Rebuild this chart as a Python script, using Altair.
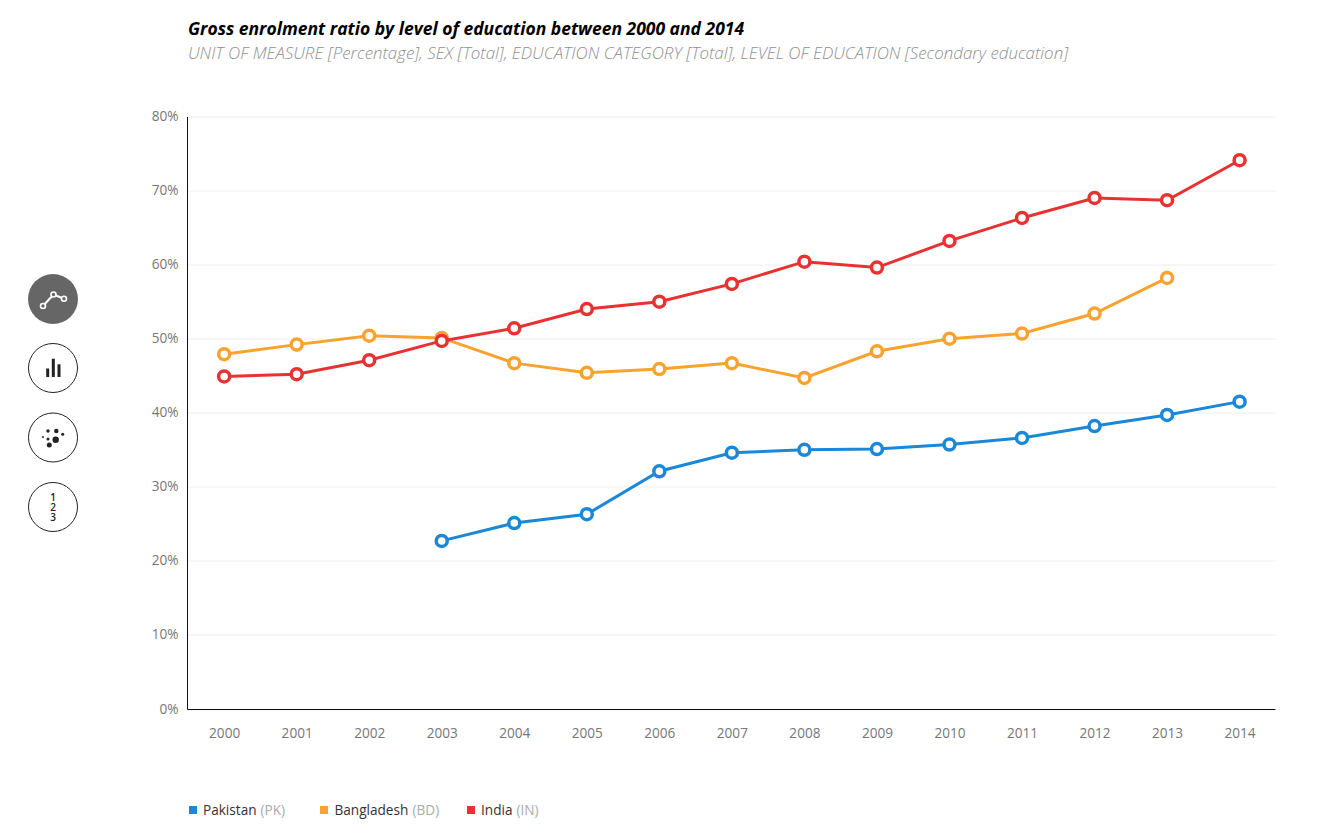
import altair as alt
import pandas as pd

years = list(range(2000, 2015))
pakistan = [None, None, None, 22.7, 25.1, 26.3, 32.1, 34.6, 35.0, 35.1, 35.7, 36.6, 38.2, 39.7, 41.5]
bangladesh = [47.9, 49.2, 50.4, 50.1, 46.7, 45.4, 45.9, 46.7, 44.7, 48.3, 50.0, 50.7, 53.4, 58.2, None]
india = [44.9, 45.2, 47.1, 49.7, 51.4, 54.0, 55.0, 57.4, 60.4, 59.6, 63.2, 66.3, 69.0, 68.7, 74.1]
names = ["Pakistan", "Bangladesh", "India"]
codes = ["(PK)", "(BD)", "(IN)"]
colors = ["#1a87d8", "#f9a22e", "#e93131"]
series = [pakistan, bangladesh, india]

rows = [
    {"year": y, "value": v, "country": n}
    for n, vals in zip(names, series)
    for y, v in zip(years, vals)
    if v is not None
]
df = pd.DataFrame(rows)

FONT = "Open Sans"
x = alt.X(
    "year:O",
    scale=alt.Scale(type="point", padding=0.5, align=0.512),
    axis=alt.Axis(
        title=None, labelAngle=0, ticks=False, grid=False, domainColor="#111111", domainWidth=1,
        labelColor="#777777", labelFont=FONT, labelFontSize=13.6, labelPadding=17,
    ),
)
y = alt.Y(
    "value:Q",
    scale=alt.Scale(domain=[0, 80], nice=False),
    axis=alt.Axis(
        title=None, values=list(range(0, 90, 10)), labelExpr="datum.value + '%'", ticks=False,
        grid=True, gridColor="#eeeeee", gridWidth=1, domainColor="#111111", domainWidth=1,
        labelColor="#777777", labelFont=FONT, labelFontSize=13.6, labelPadding=9,
    ),
)
cscale = alt.Scale(domain=names, range=colors)

layers = []
for n in names:
    d = df[df.country == n]
    layers.append(
        alt.Chart(d).mark_line(strokeWidth=3).encode(x=x, y=y, color=alt.Color("country:N", scale=cscale, legend=None))
    )
    layers.append(
        alt.Chart(d)
        .mark_point(filled=True, fill="white", size=121, strokeWidth=3.5, opacity=1)
        .encode(x=x, y=y, stroke=alt.Color("country:N", scale=cscale, legend=None))
    )


def txt(text, px, py, size=13.6, col="#333333", align="left", **kw):
    return alt.Chart(pd.DataFrame({"t": [0]})).mark_text(
        text=text, font=FONT, fontSize=size, color=col, align=align, baseline="middle", **kw
    ).encode(x=alt.value(px), y=alt.value(py))


def circle(px, py, size, fill=None, stroke=None, sw=1):
    kw = {"filled": True, "fill": fill or "white", "opacity": 1, "shape": "circle", "size": size}
    if stroke:
        kw.update(stroke=stroke, strokeWidth=sw)
    return alt.Chart(pd.DataFrame({"a": [0]})).mark_point(**kw).encode(x=alt.value(px), y=alt.value(py))


def seg(x1, y1, x2, y2, col, sw):
    return alt.Chart(pd.DataFrame({"a": [0]})).mark_rule(color=col, strokeWidth=sw).encode(
        x=alt.value(x1), y=alt.value(y1), x2=alt.value(x2), y2=alt.value(y2)
    )


OX, OY = 187, 116.5
deco = []

# legend: square, name, grey code
LY = 811 - OY
leg_sq = [193, 324, 471]
leg_name = [203, 334.5, 481]
leg_code = [260.5, 412.5, 516.5]
for i, n in enumerate(names):
    deco.append(
        alt.Chart(pd.DataFrame({"a": [0]}))
        .mark_point(filled=True, shape="square", size=64, fill=colors[i], opacity=1)
        .encode(x=alt.value(leg_sq[i] - OX), y=alt.value(LY - 1))
    )
    deco.append(txt(n, leg_name[i] - OX, LY))
    deco.append(txt(codes[i], leg_code[i] - OX, LY, col="#aaaaaa"))

# side buttons
G = "#666666"
K = "#222222"
deco.append(circle(53 - OX, 299 - OY, 2500, fill=G))
pts = [(43, 306), (53.5, 294.5), (64, 298.7)]
deco.append(seg(pts[0][0] - OX, pts[0][1] - OY, pts[1][0] - OX, pts[1][1] - OY, "white", 2))
deco.append(seg(pts[1][0] - OX, pts[1][1] - OY, pts[2][0] - OX, pts[2][1] - OY, "white", 2))
for (a, b) in pts:
    deco.append(circle(a - OX, b - OY, 25, fill=G, stroke="white", sw=1.6))

for cy in (368, 437.5, 507):
    deco.append(circle(53 - OX, cy - OY, 2401, fill="white", stroke=K, sw=1))

deco.append(seg(47.7 - OX, 368.5 - OY, 47.7 - OX, 377 - OY, K, 3))
deco.append(seg(53.3 - OX, 358.7 - OY, 53.3 - OX, 377 - OY, K, 3))
deco.append(seg(59 - OX, 364.3 - OY, 59 - OX, 377 - OY, K, 3))

for (a, b, s) in [(48, 431, 12), (56.3, 431, 20), (62.7, 434.3, 9), (43, 437, 4), (48, 439, 9), (55.7, 439.7, 42), (49.3, 445, 25)]:
    deco.append(circle(a - OX, b - OY, s, fill=K))

deco.append(txt(["1", "2", "3"], 53 - OX, 497.5 - OY, size=10, col=K, align="center", fontWeight=600, lineHeight=10.2))

chart = (
    alt.layer(*layers, *deco)
    .resolve_scale(stroke="independent")
    .properties(
        width=1088,
        height=592.5,
        padding={"left": 179, "top": 108.5, "right": 36, "bottom": 120},
        autosize=alt.AutoSizeParams(type="none"),
        title=alt.TitleParams(
            text="Gross enrolment ratio by level of education between 2000 and 2014",
            subtitle="UNIT OF MEASURE [Percentage], SEX [Total], EDUCATION CATEGORY [Total], LEVEL OF EDUCATION [Secondary education]",
            anchor="start", frame="group", offset=48, dx=1,
            font=FONT, fontSize=17.5, fontStyle="italic", fontWeight="bold", color="#000000",
            subtitleFont=FONT, subtitleFontSize=16.9, subtitleFontStyle="italic", subtitleFontWeight=300,
            subtitleColor="#8f8f8f", subtitlePadding=7,
        ),
    )
    .configure_view(stroke=None)
)

chart.save("out.html", embed_options={"renderer": "svg", "actions": False})
